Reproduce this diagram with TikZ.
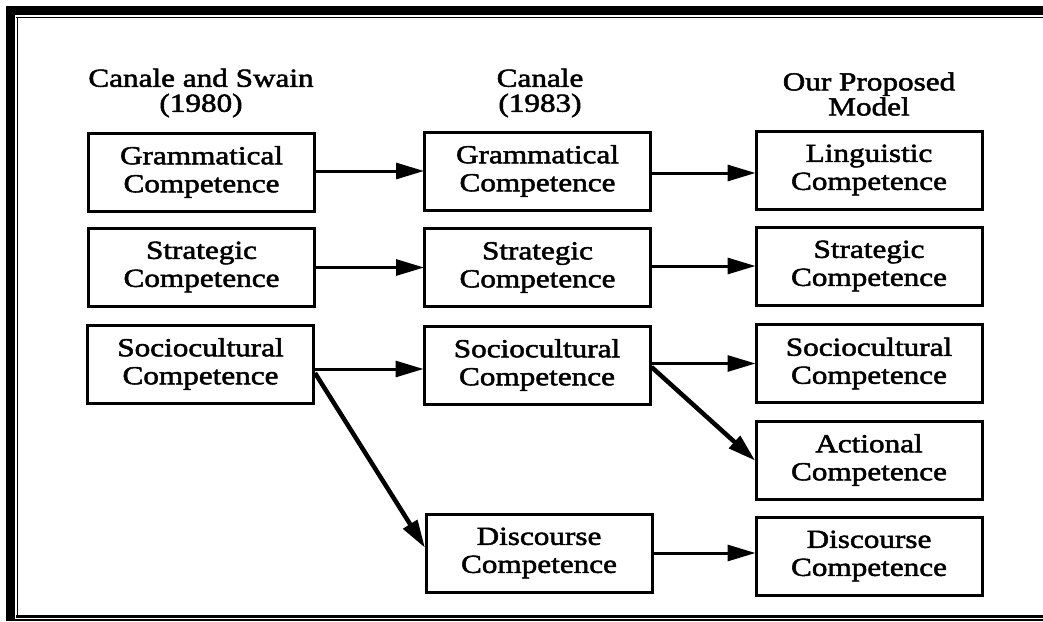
\documentclass[tikz,border=0pt]{standalone}
\usepackage{fontspec}
\setmainfont{Liberation Serif}[FakeStretch=1.2,FakeBold=2]
\usetikzlibrary{arrows.meta,calc}

\tikzset{
  comp/.style={draw, line width=3pt, minimum width=226pt, minimum height=78pt,
    inner sep=0pt, align=center, font=\fontsize{26}{28}\selectfont},
  head/.style={align=center, font=\fontsize{26}{25}\selectfont, inner sep=0pt},
  arr/.style={line width=3pt, -{Triangle[length=28pt,width=16pt]}, shorten >=-1pt},
  diag/.style={arr, line width=4.5pt},
}

\begin{document}
\begin{tikzpicture}[x=1pt, y=-1pt]
\useasboundingbox (0,0) rectangle (1043,621);

% double frame: heavy outer rule on top and left, hairline just inside
\fill (6,6) rectangle (1043,15);
\fill (6,6) rectangle (15,620.5);
\draw[line width=1.6pt] (16,17.5) -- (1043,17.5);
\draw[line width=1.6pt] (17.5,17) -- (17.5,616);
\draw[line width=3pt] (16,616) -- (1043,616);
\draw[line width=1.4pt] (6,620) -- (1043,620);

% column headings
\node[head] (h1) at (201,93) {Canale and Swain\\(1980)};
\node[head] (h2) at (540,93) {Canale\\(1983)};
\node[head] (h3) at (869,94) {Our Proposed\\Model};

% Canale and Swain (1980)
\node[comp] (g1) at (201.5,172) {Grammatical\\Competence};
\node[comp] (st1) at (201.5,267) {Strategic\\Competence};
\node[comp] (so1) at (200.5,364) {Sociocultural\\Competence};

% Canale (1983)
\node[comp] (g2) at (537.5,171) {Grammatical\\Competence};
\node[comp] (st2) at (537.5,267.5) {Strategic\\Competence};
\node[comp] (so2) at (537,365) {Sociocultural\\Competence};
\node[comp] (d2) at (539,553) {Discourse\\Competence};

% Proposed model
\node[comp] (l3) at (869,170) {Linguistic\\Competence};
\node[comp] (st3) at (869,266) {Strategic\\Competence};
\node[comp] (so3) at (869,363.5) {Sociocultural\\Competence};
\node[comp] (a3) at (869,460) {Actional\\Competence};
\node[comp] (d3) at (869,556) {Discourse\\Competence};

% connectors
\draw[arr] (g1.east |- g2) -- (g2.west);
\draw[arr] (st1.east |- st2) -- (st2.west);
\draw[arr] ($(so1.east |- so2)+(0,4)$) -- ($(so2.west)+(0,4)$);
\draw[diag] ($(so1.east)+(0,9)$) -- ($(d2.west)+(0,-6)$);

\draw[arr] ($(g2.east |- l3)+(0,3)$) -- ($(l3.west)+(0,3)$);
\draw[arr] (st2.east |- st3) -- (st3.west);
\draw[arr] (so2.east |- so3) -- (so3.west);
\draw[diag] ($(so2.east)+(0,2)$) -- (a3.west);
\draw[arr] (d2.east) -- (d3.west |- d2);
\end{tikzpicture}
\end{document}
